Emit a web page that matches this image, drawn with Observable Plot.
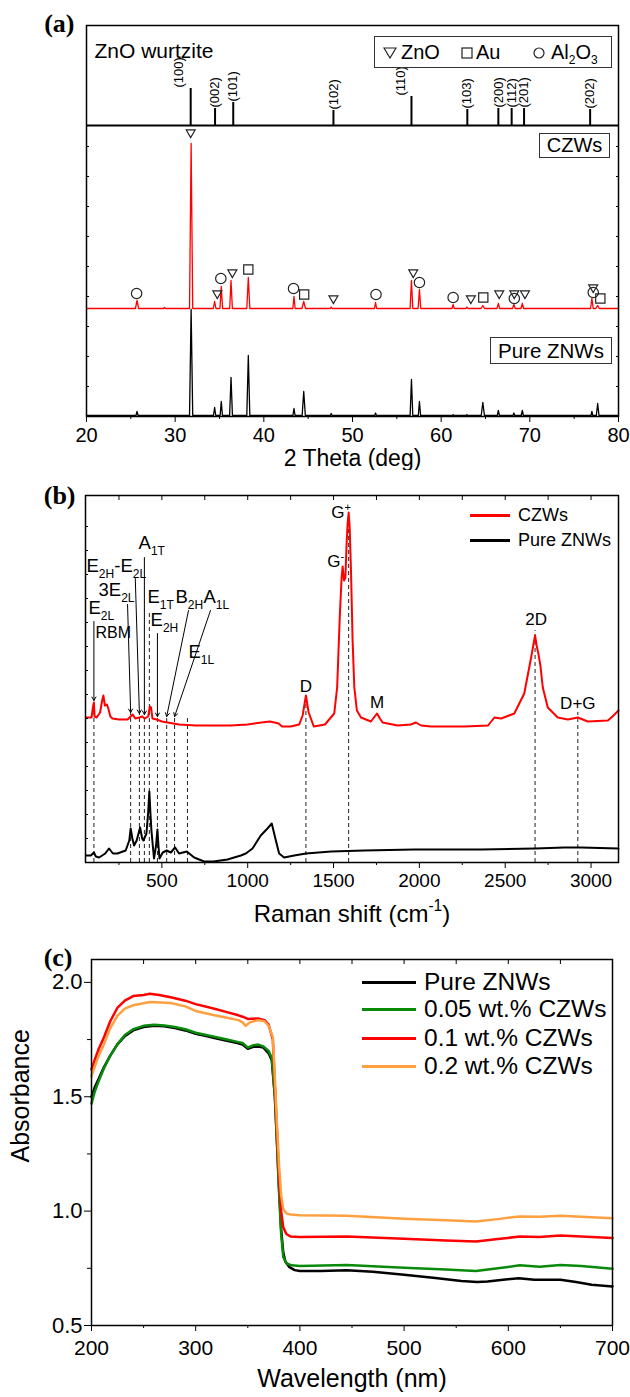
<!DOCTYPE html>
<html><head><meta charset="utf-8">
<script src="https://cdn.jsdelivr.net/npm/d3@7"></script>
<script src="https://cdn.jsdelivr.net/npm/@observablehq/plot@0.6"></script>
<style>
body{margin:0;background:#fff;}
#wrap{position:relative;width:630px;height:1397px;font-family:"Liberation Sans",Arial,sans-serif;color:#000;overflow:hidden;}
#wrap>svg{position:absolute;left:0;}
.box{position:absolute;border:1.3px solid #333;box-sizing:border-box;background:#fff;white-space:nowrap;}
.abs{position:absolute;white-space:nowrap;}
</style></head><body><div id="wrap"></div>
<script>
// ---------- Panel (a): XRD ----------
const stickHKL = ["(100)","(002)","(101)","(102)","(110)","(103)","(200)","(112)","(201)","(202)"];
const stickPos = [31.75, 34.5, 36.55, 47.85, 56.65, 62.95, 66.45, 67.95, 69.35, 76.8];
const stickH   = [37, 17, 23, 15, 29, 16, 17, 17, 17, 16];
const stickLabelPos = [30.45, 34.5, 36.55, 47.85, 55.45, 62.95, 66.45, 67.95, 69.35, 76.8];
const refBase = 291;           // baseline of the reference pattern (a.u.)
const czwOffsetA = 108, pureOffsetA = 1;
const xrdCZW = [
[20,0],[25.52,0],[25.7,8],[25.88,0],[28.7,0],[28.8,1],[28.9,0],
[31.62,0],[31.8,165],[31.98,0],[34.3,0],[34.45,7],[34.6,0],
[35.05,0],[35.2,22],[35.35,0],[36.15,0],[36.3,28],[36.45,0],
[38.08,0],[38.25,31],[38.42,0],[43.27,0],[43.4,12],[43.53,0],
[44.3,0],[44.5,7],[44.7,0],[47.5,0],[47.6,1.5],[47.7,0],
[52.48,0],[52.6,6],[52.72,0],[56.5,0],[56.65,28],[56.8,0],
[57.4,0],[57.55,19],[57.7,0],[61.22,0],[61.35,4],[61.48,0],
[62.8,0],[62.9,1.5],[63.0,0],[64.5,0],[64.7,3],[64.9,0],
[66.3,0],[66.45,5],[66.6,0],[68.05,0],[68.2,4],[68.35,0],
[69.0,0],[69.15,5],[69.3,0],[76.85,0],[77.0,10],[77.15,0],
[77.45,0],[77.65,3],[77.85,0],[80,0]];
const xrdPure = [
[20,0],[25.58,0],[25.7,4],[25.82,0],
[31.62,0],[31.8,106],[31.98,0],[34.32,0],[34.45,8],[34.58,0],
[35.07,0],[35.2,14],[35.33,0],[36.14,0],[36.3,38],[36.46,0],
[38.08,0],[38.25,60],[38.42,0],[43.28,0],[43.4,7],[43.52,0],
[44.32,0],[44.5,24],[44.68,0],[47.5,0],[47.6,2],[47.7,0],
[52.5,0],[52.6,2.5],[52.7,0],[56.5,0],[56.65,36],[56.8,0],
[57.42,0],[57.55,14],[57.68,0],[61.28,0],[61.35,1],[61.42,0],
[62.84,0],[62.9,1],[62.96,0],[64.52,0],[64.7,13],[64.88,0],
[66.33,0],[66.45,5],[66.57,0],[68.1,0],[68.2,2.5],[68.3,0],
[69.03,0],[69.15,5],[69.27,0],[76.9,0],[77.0,4],[77.1,0],
[77.5,0],[77.65,12],[77.8,0],[80,0]];
const markZnO  = [[31.75,284],[34.75,123],[36.45,144],[47.85,118],[56.85,144],[63.35,118],[66.55,123],[68.25,123],[69.45,123],[77.15,129]];
const markAu   = [[38.25,147],[44.55,122],[64.75,119],[77.95,118]];
const markAl2O3= [[25.65,123],[35.15,138],[43.35,128],[52.65,122],[57.55,134],[61.35,119],[68.25,118],[77.15,124]];
const xMajA = [20,30,40,50,60,70,80], xMinA = [25,35,45,55,65,75];
const yTickA = [30,60,90,120,150,180,210,240,270];

// ---------- Panel (b): Raman ----------
const czwOffsetB = 140;
const ramanCZW = [[58,5],[90,5],[100,17],[104,20],[108,6],[120,5],[140,10],[152,22],[159,27],[168,17],[180,18],[188,14],[200,6],[212,4],[250,3],[300,3],[318,6],[330,8],[345,4],[370,5],[386,6],[400,4],[420,6],[430,16],[437,15],[445,4],[470,3],[500,1],[600,-2],[700,-3],[800,-3],[900,-3],[1000,-2],[1080,0],[1130,1],[1180,-1],[1200,-4],[1250,-4],[1300,-2],[1320,7],[1339,27],[1355,10],[1385,-4],[1450,-2],[1504,9],[1521,35],[1537,109],[1547,145],[1553,156],[1561,142],[1569,145],[1576,179],[1582,199],[1588,210],[1594,195],[1602,149],[1611,82],[1621,35],[1636,12],[1660,5],[1718,1],[1740,6],[1753,9],[1770,4],[1786,0],[1873,-3],[1950,-2],[1980,0],[2010,-3],[2068,-4],[2262,-4],[2400,-3],[2437,5],[2476,4],[2553,9],[2611,29],[2651,65],[2674,87],[2683,77],[2693,69],[2705,57],[2719,35],[2748,15],[2806,5],[2865,3],[2923,5],[2981,1],[3098,2],[3125,6],[3160,12]];
const ramanPure = [[58,7],[86,7],[104,10],[115,6],[134,5],[170,9],[192,14],[215,9],[241,9],[289,12],[310,22],[318,34],[328,24],[338,17],[353,22],[373,35],[385,24],[392,22],[410,29],[420,50],[427,71],[433,50],[439,32],[454,4],[466,17],[474,33],[480,17],[486,4],[505,10],[528,12],[552,10],[577,15],[600,9],[645,11],[688,5],[746,1],[800,1],[882,3],[960,7],[989,9],[1028,14],[1076,27],[1115,34],[1140,39],[1164,22],[1183,9],[1212,5],[1271,7],[1339,9],[1486,11],[1679,12],[1970,13],[2359,13],[2674,14],[2845,15],[2942,15],[3160,14]];
const ramanDashX   = [104, 318, 369, 398, 427, 474, 528, 574, 649, 1339, 1588, 2674, 2923];
const ramanDashTop = [160, 149, 148, 147, 250, 145, 145, 145, 144, 167, 348, 232, 150];
const ramanArrows = [[104,241,104,162],[300,258,318,150],[345,284,369,149],[398,305,398,148],[474,229,474,146],[655,252,528,146],[783,252,574,146]];
const modeLabels = [["E_{2L}",72,254],["3E_{2L}",131,272],["E_{2H}-E_{2L}",61,296],["A_{1T}",364,319],["E_{1T}",416,265],["E_{2H}",434,242],["B_{2H}",579,265],["A_{1L}",742,265],["E_{1L}",655,210]];
const rbmLabel = [["RBM",113,230]];
const gLabels = [["G^{-}",1463,301],["G^{+}",1486,350]];
const bandLabels = [["D",1339,176],["M",1753,160],["2D",2680,243],["D+G",2923,159]];
const xMajB = [500,1000,1500,2000,2500,3000], xMinB = [250,750,1250,1750,2250,2750];
const xTopB = [250,500,750,1000,1250,1500,1750,2000,2250,2500,2750,3000];
const yTickB = [24,48,72,96,120,144,168,192,216,240,264,288,312,336];

// ---------- Panel (c): UV-vis ----------
const uvPure = [[200,1.50],[203,1.54],[207,1.58],[212,1.63],[218,1.68],[225,1.73],[232,1.765],[240,1.79],[250,1.805],[260,1.81],[270,1.808],[280,1.80],[290,1.79],[300,1.775],[310,1.765],[320,1.755],[330,1.745],[340,1.735],[345,1.728],[350,1.71],[355,1.718],[360,1.72],[365,1.715],[370,1.69],[373,1.66],[376,1.50],[378,1.30],[380,1.10],[382,0.92],[384,0.82],[386,0.78],[390,0.755],[395,0.742],[400,0.738],[420,0.738],[445,0.742],[470,0.735],[500,0.722],[530,0.708],[555,0.695],[570,0.690],[580,0.692],[595,0.700],[610,0.707],[625,0.700],[650,0.700],[665,0.690],[680,0.678],[700,0.671]];
const uv005 = [[200,1.47],[203,1.52],[207,1.57],[212,1.625],[218,1.68],[225,1.73],[232,1.77],[240,1.795],[250,1.81],[260,1.815],[270,1.812],[280,1.805],[290,1.795],[300,1.78],[310,1.77],[320,1.76],[330,1.75],[340,1.74],[345,1.735],[350,1.715],[355,1.725],[360,1.728],[365,1.72],[370,1.70],[373,1.67],[376,1.50],[378,1.30],[380,1.08],[382,0.90],[384,0.80],[387,0.772],[392,0.763],[400,0.760],[445,0.765],[500,0.752],[540,0.745],[569,0.738],[590,0.750],[611,0.763],[630,0.757],[650,0.765],[670,0.760],[700,0.748]];
const uv01 = [[200,1.62],[203,1.66],[207,1.71],[212,1.76],[218,1.83],[225,1.89],[232,1.92],[240,1.94],[250,1.945],[256,1.95],[265,1.945],[276,1.935],[290,1.92],[300,1.905],[318,1.885],[330,1.87],[341,1.856],[345,1.85],[350,1.84],[360,1.842],[366,1.835],[370,1.815],[374,1.75],[376,1.55],[378,1.35],[380,1.15],[382,1.00],[384,0.93],[387,0.90],[391,0.889],[400,0.887],[445,0.889],[500,0.879],[540,0.872],[569,0.867],[590,0.878],[611,0.889],[630,0.887],[650,0.893],[670,0.889],[700,0.882]];
const uv02 = [[200,1.59],[203,1.63],[207,1.68],[212,1.73],[218,1.80],[225,1.855],[232,1.885],[240,1.90],[256,1.914],[276,1.91],[290,1.895],[300,1.875],[318,1.856],[330,1.845],[341,1.835],[345,1.825],[348,1.81],[352,1.825],[360,1.835],[366,1.83],[370,1.81],[374,1.76],[376,1.58],[378,1.38],[380,1.20],[382,1.07],[384,1.01],[387,0.99],[391,0.985],[400,0.982],[445,0.980],[500,0.967],[540,0.960],[569,0.955],[590,0.965],[611,0.977],[630,0.975],[650,0.980],[670,0.975],[700,0.969]];
const uvNames  = ["Pure ZNWs","0.05 wt.% CZWs","0.1 wt.% CZWs","0.2 wt.% CZWs"];
const uvColors = ["#000000","#0a8a0a","#ff0000","#ffa040"];
const xMajC = [200,300,400,500,600,700], xMinC = [250,350,450,550,650];
const xTopC = [250,300,350,400,450,500,550,600,650];
const yMajC = [0.5,1.0,1.5,2.0], yMinC = [0.75,1.25,1.75];

// ---------- helpers ----------
const wrap = document.getElementById("wrap");
const FONT = '"Liberation Sans", Arial, sans-serif';
function rich(svg){
  svg.querySelectorAll("text").forEach(t=>{
    const s = t.textContent;
    if(!/[_^]\{/.test(s)) return;
    const size = parseFloat(getComputedStyle(t).fontSize) || 16;
    while(t.firstChild) t.removeChild(t.firstChild);
    const re = /([_^])\{([^}]*)\}|([^_^]+)/g; let m, shift = 0;
    while((m = re.exec(s))){
      const ts = document.createElementNS("http://www.w3.org/2000/svg","tspan");
      if(m[3]){ ts.textContent = m[3]; ts.setAttribute("dy", -shift); shift = 0; }
      else { const d = m[1]==="_" ? size*0.3 : -size*0.42; ts.textContent = m[2];
             ts.setAttribute("font-size", size*0.65); ts.setAttribute("dy", d - shift); shift = d; }
      t.appendChild(ts);
    }
  });
}
function place(svg, top){ svg.style.top = top + "px"; wrap.appendChild(svg); rich(svg); }
function html(str){ const d = document.createElement("div"); d.innerHTML = str; while(d.firstChild) wrap.appendChild(d.firstChild); }
const panelLabel = (t, dx, dy) => Plot.text([t], {text: d=>d, frameAnchor:"top-left", textAnchor:"end", dx, dy, fontFamily:'"Liberation Serif", "Times New Roman", serif', fontWeight:"bold", fontSize:26});
const noText = () => "";

// ---------- Panel A ----------
const sticks = stickHKL.map((h,i)=>({hkl:h, x:stickPos[i], lx:stickLabelPos[i], top:refBase+stickH[i]}));
const A = Plot.plot({
  width:630, height:470, marginTop:25, marginBottom:54, marginLeft:86, marginRight:12,
  x:{domain:[20,80], label:null}, y:{domain:[0,391], label:null},
  style:{fontFamily:FONT, fontSize:"20px", color:"black", background:"white", overflow:"visible"},
  marks:[
    Plot.ruleY([refBase], {stroke:"black", strokeWidth:2}),
    Plot.ruleX(sticks, {x:"x", y1:refBase, y2:"top", stroke:"black", strokeWidth:2}),
    Plot.text(sticks, {x:"lx", y:d=>d.top+1, text:"hkl", rotate:-90, textAnchor:"start", fontSize:13}),
    Plot.line(xrdPure, {x:d=>d[0], y:d=>d[1]+pureOffsetA, stroke:"black", strokeWidth:1.3}),
    Plot.line(xrdCZW, {x:d=>d[0], y:d=>d[1]+czwOffsetA, stroke:"#ff0000", strokeWidth:1.3}),
    Plot.dot(markZnO, {x:d=>d[0], y:d=>d[1], symbol:"triangle", rotate:180, r:3.3, stroke:"#222", fill:"none", strokeWidth:1.2}),
    Plot.dot(markAu, {x:d=>d[0], y:d=>d[1], symbol:"square", r:5.2, stroke:"#222", fill:"none", strokeWidth:1.2}),
    Plot.dot(markAl2O3, {x:d=>d[0], y:d=>d[1], symbol:"circle", r:5.2, stroke:"#222", fill:"none", strokeWidth:1.2}),
    Plot.text(["ZnO wurtzite"], {text:d=>d, frameAnchor:"top-left", textAnchor:"start", dx:8, dy:18, fontSize:21}),
    Plot.axisX({ticks:xMajA, tickSize:6, tickPadding:5, tickFormat:"d", fontSize:20, label:null}),
    Plot.axisX({ticks:xMinA, tickSize:3, tickFormat:noText, label:null}),
    Plot.axisY({anchor:"left", ticks:yTickA, tickSize:-3, tickFormat:noText, label:null}),
    Plot.axisY({anchor:"right", ticks:yTickA, tickSize:-3, tickFormat:noText, label:null}),
    Plot.frame({stroke:"black", strokeWidth:1.5}),
    Plot.text(["2 Theta (deg)"], {text:d=>d, frameAnchor:"bottom", dy:49, fontSize:23}),
    panelLabel("(a)", -12, -12)
  ]
});
place(A, 0);

// ---------- Panel B ----------
const dashes = ramanDashX.map((x,i)=>({x, top:ramanDashTop[i]}));
const arrows = ramanArrows.map(a=>({x1:a[0], y1:a[1], x2:a[2], y2:a[3]}));
const B = Plot.plot({
  width:630, height:470, marginTop:25, marginBottom:78, marginLeft:85, marginRight:12,
  x:{domain:[55,3160], label:null}, y:{domain:[0,367], label:null},
  style:{fontFamily:FONT, fontSize:"19px", color:"black", background:"white", overflow:"visible"},
  marks:[
    Plot.ruleX(dashes, {x:"x", y1:0, y2:"top", stroke:"#222", strokeWidth:1, strokeDasharray:"4,3"}),
    Plot.line(ramanPure, {x:d=>d[0], y:d=>d[1], stroke:"black", strokeWidth:2}),
    Plot.line(ramanCZW, {x:d=>d[0], y:d=>d[1]+czwOffsetB, stroke:"#ff0000", strokeWidth:2}),
    Plot.arrow(arrows, {x1:"x1", y1:"y1", x2:"x2", y2:"y2", stroke:"black", strokeWidth:1, headLength:6}),
    Plot.text(modeLabels, {x:d=>d[1], y:d=>d[2], text:d=>d[0], textAnchor:"start", fontSize:18.5}),
    Plot.text(rbmLabel, {x:d=>d[1], y:d=>d[2], text:d=>d[0], textAnchor:"start", fontSize:16}),
    Plot.text(gLabels, {x:d=>d[1], y:d=>d[2], text:d=>d[0], textAnchor:"start", fontSize:17}),
    Plot.text(bandLabels, {x:d=>d[1], y:d=>d[2], text:d=>d[0], textAnchor:"middle", fontSize:17}),
    Plot.axisX({ticks:xMajB, tickSize:6, tickPadding:5, tickFormat:"d", fontSize:19, label:null}),
    Plot.axisX({ticks:xMinB, tickSize:3, tickFormat:noText, label:null}),
    Plot.axisX({anchor:"top", ticks:xTopB, tickSize:-4, tickFormat:noText, label:null}),
    Plot.axisY({anchor:"left", ticks:yTickB, tickSize:-3, tickFormat:noText, label:null}),
    Plot.frame({stroke:"black", strokeWidth:1.5}),
    Plot.text(["Raman shift (cm^{-1})"], {text:d=>d, frameAnchor:"bottom", dy:59, fontSize:24}),
    panelLabel("(b)", -10, -10)
  ]
});
place(B, 470);

// ---------- Panel C ----------
const C = Plot.plot({
  width:630, height:457, marginTop:19, marginBottom:72, marginLeft:91, marginRight:18,
  x:{domain:[200,700], label:null}, y:{domain:[0.5,2.1], label:null},
  style:{fontFamily:FONT, fontSize:"21px", color:"black", background:"white", overflow:"visible"},
  marks:[
    Plot.line(uvPure, {x:d=>d[0], y:d=>d[1], stroke:uvColors[0], strokeWidth:2.5}),
    Plot.line(uv005, {x:d=>d[0], y:d=>d[1], stroke:uvColors[1], strokeWidth:2.5}),
    Plot.line(uv01, {x:d=>d[0], y:d=>d[1], stroke:uvColors[2], strokeWidth:2.5}),
    Plot.line(uv02, {x:d=>d[0], y:d=>d[1], stroke:uvColors[3], strokeWidth:2.5}),
    Plot.axisX({ticks:xMajC, tickSize:6, tickPadding:9, tickFormat:"d", fontSize:21, label:null}),
    Plot.axisX({ticks:xMinC, tickSize:3, tickFormat:noText, label:null}),
    Plot.axisX({anchor:"top", ticks:xTopC, tickSize:-4, tickFormat:noText, label:null}),
    Plot.axisY({ticks:yMajC, tickSize:7, tickPadding:2, tickFormat:".1f", fontSize:22, label:null}),
    Plot.axisY({ticks:yMinC, tickSize:4, tickFormat:noText, label:null}),
    Plot.frame({stroke:"black", strokeWidth:1.5}),
    Plot.text(["Wavelength (nm)"], {text:d=>d, frameAnchor:"bottom", dy:61, fontSize:25}),
    Plot.text(["Absorbance"], {text:d=>d, frameAnchor:"left", rotate:-90, dx:-71, dy:20, fontSize:25}),
    panelLabel("(c)", -19, -12)
  ]
});
place(C, 940);

// ---------- overlays: legends and labels ----------
html(`<div class="box" style="left:374px;top:36px;width:238px;height:32px;font-size:20px;">
  <svg class="abs" style="left:8px;top:10px" width="14" height="12"><polygon points="1,1 13,1 7,11" fill="none" stroke="#222" stroke-width="1.2"/></svg>
  <span class="abs" style="left:26px;top:4px;">ZnO</span>
  <svg class="abs" style="left:86px;top:10px" width="13" height="13"><rect x="1" y="1" width="10" height="10" fill="none" stroke="#222" stroke-width="1.2"/></svg>
  <span class="abs" style="left:101px;top:4px;">Au</span>
  <svg class="abs" style="left:158px;top:10px" width="13" height="13"><circle cx="6" cy="6" r="5" fill="none" stroke="#222" stroke-width="1.2"/></svg>
  <span class="abs" style="left:176px;top:4px;">Al<sub style="font-size:12px">2</sub>O<sub style="font-size:12px">3</sub></span>
</div>
<div class="box" style="left:539px;top:133px;width:71px;height:25px;font-size:20px;line-height:23px;text-align:center;">CZWs</div>
<div class="box" style="left:490px;top:337px;width:122px;height:27px;font-size:20.5px;line-height:25px;text-align:center;">Pure ZNWs</div>
<div class="abs" style="left:470px;top:514px;width:40px;height:2.5px;background:#ff0000"></div>
<div class="abs" style="left:518px;top:504px;font-size:18px;line-height:22px;">CZWs</div>
<div class="abs" style="left:470px;top:539px;width:40px;height:2.5px;background:#000"></div>
<div class="abs" style="left:518px;top:529px;font-size:18px;line-height:22px;">Pure ZNWs</div>`);
const legTops = [982, 1009, 1038, 1066];
uvNames.forEach((n,i)=>{
  html(`<div class="abs" style="left:362px;top:${legTops[i]-1.5}px;width:54px;height:3px;background:${uvColors[i]}"></div>
  <div class="abs" style="left:424px;top:${legTops[i]-14}px;font-size:24.5px;line-height:28px;">${n}</div>`);
});
</script></body></html>
